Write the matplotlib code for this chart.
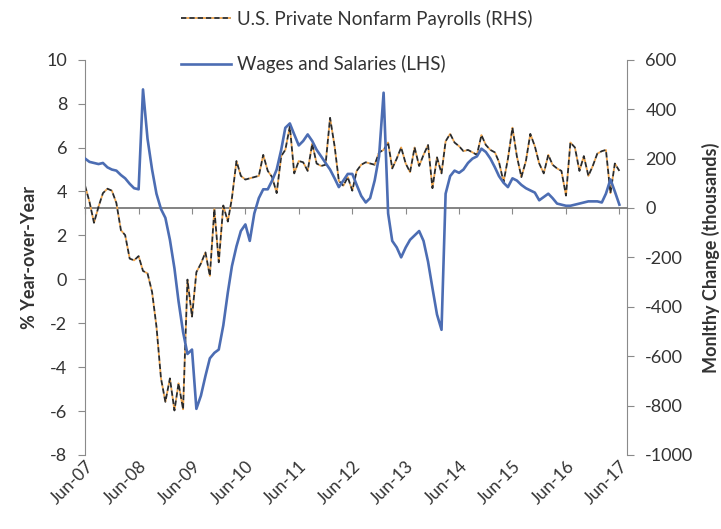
import matplotlib
matplotlib.use("Agg")
import matplotlib.pyplot as plt
import matplotlib.dates as mdates
import pandas as pd
import numpy as np

start_month = "2007-06-01"

payrolls_k = [
    90, 25, -60, 5, 60, 78, 70, 20, -90, -110,
    -205, -212, -195, -255, -265, -340, -480, -690, -785, -690,
    -820, -710, -815, -290, -440, -260, -225, -180, -275, -5,
    -220, 10, -55, 40, 190, 130, 115, 120, 125, 130,
    215, 150, 125, 60, 210, 235, 330, 140, 190, 185,
    150, 260, 180, 170, 175, 365, 250, 110, 90, 125,
    70, 150, 175, 185, 180, 175, 225, 235, 265, 160,
    200, 245, 180, 145, 245, 170, 215, 255, 80, 205,
    140, 270, 300, 265, 250, 230, 235, 225, 215, 295,
    255, 235, 225, 186, 105, 199, 325, 210, 125, 190,
    300, 250, 180, 140, 215, 175, 160, 150, 50, 265,
    245, 150, 210, 130, 170, 220, 230, 235, 60, 180,
    150,
]

wages_yoy = [
    5.5, 5.35, 5.3, 5.25, 5.3, 5.1, 5.0, 4.95, 4.75, 4.6,
    4.35, 4.15, 4.1, 8.65, 6.4, 5.0, 3.9, 3.2, 2.8, 1.8,
    0.5, -1.0, -2.4, -3.4, -3.2, -5.9, -5.3, -4.4, -3.6, -3.35,
    -3.2, -2.1, -0.6, 0.6, 1.5, 2.2, 2.5, 1.75, 3.0, 3.7,
    4.1, 4.1, 4.5, 5.0, 5.9, 6.9, 7.1, 6.6, 6.1, 6.3,
    6.6, 6.3, 5.9, 5.6, 5.3, 5.0, 4.6, 4.2, 4.5, 4.8,
    4.8, 4.3, 3.8, 3.5, 3.7, 4.5, 5.6, 8.5, 3.0, 1.75,
    1.45, 1.0, 1.45, 1.8, 2.0, 2.2, 1.75, 0.8, -0.4, -1.6,
    -2.3, 3.9, 4.7, 4.95, 4.85, 5.0, 5.3, 5.5, 5.6, 5.95,
    5.8, 5.5, 5.1, 4.7, 4.4, 4.2, 4.6, 4.5, 4.3, 4.15,
    4.05, 3.95, 3.6, 3.75, 3.9, 3.7, 3.45, 3.4, 3.35, 3.35,
    3.4, 3.45, 3.5, 3.55, 3.55, 3.55, 3.5, 3.9, 4.55, 4.0,
    3.4,
]

tick_years = list(range(2007, 2018))
left_ticks = [10, 8, 6, 4, 2, 0, -2, -4, -6, -8]
right_ticks = [600, 400, 200, 0, -200, -400, -600, -800, -1000]

label_payroll = "U.S. Private Nonfarm Payrolls (RHS)"
label_wages = "Wages and Salaries (LHS)"
ylabel_left = "% Year-over-Year"
ylabel_right = "Monlthy Change (thousands)"

dates = pd.date_range(start_month, periods=len(wages_yoy), freq="MS")

plt.rcParams["font.family"] = ["Lato", "DejaVu Sans"]

fig = plt.figure(figsize=(7.21, 5.29), dpi=100)
ax = fig.add_axes([0.118, 0.140, 0.752, 0.747])
ax2 = ax.twinx()

grey = "#8a8a8a"
blue = "#4c6db3"
txt = "#333333"

l1, = ax.plot(dates, wages_yoy, color=blue, lw=1.9, zorder=3)
ax.set_ylim(-8, 10)
ax.set_yticks(left_ticks)
ax.set_yticklabels([str(t) for t in left_ticks])

l2, = ax2.plot(dates, payrolls_k, color="#2a2a2a", lw=1.3, linestyle=(0, (3, 1.6)),
               gapcolor="#f2a54a", zorder=4)
ax2.set_ylim(-1000, 600)
ax2.set_yticks(right_ticks)
ax2.set_yticklabels([str(t) for t in right_ticks])

ax.set_zorder(ax2.get_zorder() + 1)
ax.patch.set_visible(False)

xmin = pd.Timestamp("2007-06-01")
xmax = pd.Timestamp("2017-07-25")
ax.set_xlim(xmin, xmax)
xt = [pd.Timestamp(f"{y}-06-01") for y in tick_years]

ax.set_xticks(xt)
ax.xaxis.set_major_formatter(mdates.DateFormatter("%b-%y"))
ax.tick_params(axis="x", length=0, labelsize=12.5, pad=2, labelcolor=txt)
for lab in ax.get_xticklabels():
    lab.set_rotation(45)
    lab.set_ha("right")
    lab.set_va("top")
    lab.set_rotation_mode("anchor")

ax2.xaxis.set_visible(True)
ax2.spines["bottom"].set_position(("data", 0))
ax2.spines["bottom"].set_color("#6e6e6e")
ax2.spines["bottom"].set_linewidth(1.2)
ax2.set_xticks(xt)
ax2.tick_params(axis="x", direction="out", length=4, color=grey,
                labelbottom=False, labeltop=False, top=False)

for a in (ax, ax2):
    a.spines["top"].set_visible(False)
ax.spines["bottom"].set_visible(False)
ax.spines["right"].set_visible(False)
ax2.spines["left"].set_visible(False)
ax.spines["left"].set_color(grey)
ax2.spines["right"].set_color(grey)

ax.tick_params(axis="y", direction="out", length=5, color=grey, labelsize=13, pad=8,
               labelcolor=txt)
ax2.tick_params(axis="y", direction="out", length=5, color=grey, labelsize=13, pad=8,
                labelcolor=txt)

ax.set_ylabel(ylabel_left, fontsize=13, fontweight="bold", color=txt, labelpad=6)
ax2.set_ylabel(ylabel_right, fontsize=13, fontweight="bold", color=txt,
               rotation=90, labelpad=6)

leg = fig.legend([l2, l1], [label_payroll, label_wages], loc="upper left",
                 bbox_to_anchor=(0.2505, 0.982), frameon=False, fontsize=13.5,
                 handlelength=2.7, handletextpad=0.3, labelspacing=1.47,
                 borderpad=0, borderaxespad=0, labelcolor=txt)

fig.savefig("out.png", dpi=100)
